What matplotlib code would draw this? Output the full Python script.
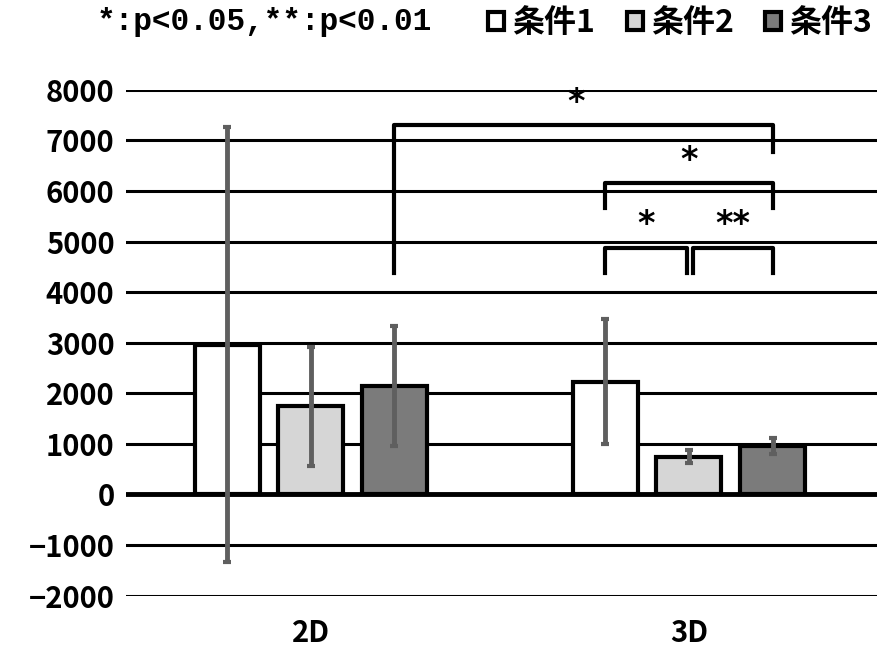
import numpy as np
import matplotlib
matplotlib.use("Agg")
import matplotlib.pyplot as plt
from matplotlib.patches import Patch

plt.rcParams['font.family'] = ['Noto Sans CJK JP', 'DejaVu Sans']
plt.rcParams['font.weight'] = 'bold'

# -----------------------
# DATA
# -----------------------
groups = ["2D", "3D"]
conditions = ["条件1", "条件2", "条件3"]
means = {
    "条件1": [2960, 2230],
    "条件2": [1740, 750],
    "条件3": [2150, 960],
}
errors = {
    "条件1": [4300, 1240],
    "条件2": [1170, 120],
    "条件3": [1190, 150],
}
colors = ["#ffffff", "#d6d6d6", "#7b7b7b"]

# significance brackets: (group, cond) start, (group, cond) end, top y, left foot y, right foot y, label
brackets = [
    ((0, 2), (1, 2), 7300, 4380, 6770, "*"),
    ((1, 0), (1, 2), 6150, 5660, 5660, "*"),
    ((1, 0), (1, 1), 4880, 4380, 4380, "*"),
    ((1, 1), (1, 2), 4880, 4380, 4380, "**"),
]

# -----------------------
# PLOT
# -----------------------
fig = plt.figure(figsize=(8.78, 6.51), dpi=100)
ax = fig.add_axes([0.143, 0.085, 0.857, 0.777])

x = np.arange(len(groups))
width = 0.172
step = 0.221

for y in range(-2000, 8001, 1000):
    ax.axhline(y, color="black", lw=2.2 if y != 0 else 3.5, zorder=1)

def bar_x(g, c):
    return x[g] + (c - 1) * step

for i, cond in enumerate(conditions):
    xs = x + (i - 1) * step
    ax.bar(xs, means[cond], width, color=colors[i], edgecolor="black",
           linewidth=3, zorder=2)
    ax.errorbar(xs, means[cond], yerr=errors[cond], fmt="none",
                ecolor="#5f5f5f", elinewidth=3.5, capsize=3, capthick=3, zorder=3)

for (g1, c1), (g2, c2), top, foot1, foot2, label in brackets:
    x1 = bar_x(g1, c1)
    x2 = bar_x(g2, c2)
    if label == "*" and g1 == 1 and c2 == 1:
        x2 -= 0.005
    if label == "**":
        x1 += 0.01
    ax.plot([x1, x1, x2, x2], [foot1, top, top, foot2], color="black",
            lw=3, solid_joinstyle="round", zorder=4)
    xm = (x1 + x2) / 2
    if g1 == 0:
        xm -= 0.02
    ax.text(xm, top + 130, label, ha="center", va="bottom",
            fontsize=24, fontweight="bold", family="DejaVu Sans", zorder=4)

ax.set_xlim(-0.49, 1.5)
ax.set_ylim(-2000, 8000)
ax.set_yticks(range(-2000, 8001, 1000))
ax.set_xticks(x)
ax.set_xticklabels(groups)
for s in ax.spines.values():
    s.set_visible(False)
ax.tick_params(length=0, labelsize=21, pad=8)
ax.tick_params(axis="x", pad=16)
for lab in ax.get_yticklabels() + ax.get_xticklabels():
    lab.set_fontweight("bold")

fig.text(0.11, 0.966, "*:p<0.05,**:p<0.01", fontsize=22.4, va="center",
         fontweight="bold", family=["Liberation Mono", "DejaVu Sans Mono"])
handles = [Patch(facecolor=c, edgecolor="black", linewidth=3) for c in colors]
fig.legend(handles, conditions, loc="center right", bbox_to_anchor=(1.008, 0.964),
           ncol=3, frameon=False, fontsize=23, handlelength=0.5, handleheight=0.5,
           handletextpad=0.25, columnspacing=1.0, borderaxespad=0.0)

plt.savefig("out.png", dpi=100)
